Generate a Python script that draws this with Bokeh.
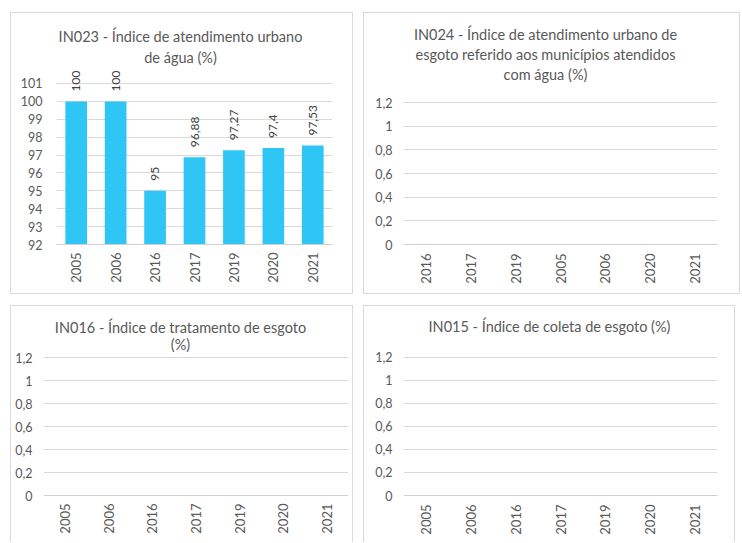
import math
from bokeh.plotting import figure
from bokeh.layouts import row, column
from bokeh.models import (ColumnDataSource, FactorRange, Range1d, FixedTicker,
                          CustomJSTickFormatter, Label)
from bokeh.core.properties import value
from bokeh.embed import file_html
from bokeh.resources import INLINE
from bokeh.core.validation import silence
from bokeh.core.validation.warnings import MISSING_RENDERERS

silence(MISSING_RENDERERS, True)

# ---------------- data ----------------
in023_years = ["2005", "2006", "2016", "2017", "2019", "2020", "2021"]
in023_values = [100, 100, 95, 96.88, 97.27, 97.4, 97.53]
in023_ticks = [92, 93, 94, 95, 96, 97, 98, 99, 100, 101]
in023_title = ["IN023 - Índice de atendimento urbano", "de água (%)"]

in024_years = ["2016", "2017", "2019", "2005", "2006", "2020", "2021"]
in024_title = ["IN024 - Índice de atendimento urbano de",
               "esgoto referido aos municípios atendidos",
               "com água (%)"]

in016_years = ["2005", "2006", "2016", "2017", "2019", "2020", "2021"]
in016_title = ["IN016 - Índice de tratamento de esgoto", "(%)"]

in015_years = ["2005", "2006", "2016", "2017", "2019", "2020", "2021"]
in015_title = ["IN015 - Índice de coleta de esgoto (%)"]

empty_ticks = [0, 0.2, 0.4, 0.6, 0.8, 1.0, 1.2]

# ---------------- style ----------------
FONT = "Lato"
TEXT = "#595959"
LABEL = "#404040"
GRID = "#d9d9d9"
AXIS = "#d0d0d0"
BAR = "#2FC6F6"

comma_fmt = CustomJSTickFormatter(code="return String(tick).replace('.', ',');")


def make_panel(W, H, left, right, bottom, cats, y0, ppu, ticks,
               title_lines, title_cx, centers, ystand, xstand, shadow):
    frame_h = H - bottom
    frame_w = W - left - right
    y1 = y0 + frame_h / ppu
    p = figure(width=W, height=H, x_range=FactorRange(*cats),
               y_range=Range1d(y0, y1), output_backend="svg",
               toolbar_location=None, min_border_left=left,
               min_border_right=right, min_border_top=0,
               min_border_bottom=bottom,
               styles={"box-shadow": shadow})
    p.border_fill_color = None
    p.background_fill_color = None
    p.outline_line_color = None
    p.xgrid.grid_line_color = None
    p.ygrid.grid_line_color = GRID
    p.ygrid.grid_line_width = 1

    p.yaxis.ticker = FixedTicker(ticks=ticks)
    p.yaxis.formatter = comma_fmt
    p.yaxis.axis_line_color = None
    p.yaxis.major_tick_line_color = None
    p.yaxis.minor_tick_line_color = None
    p.yaxis.major_tick_out = 0
    p.yaxis.major_label_standoff = ystand
    p.yaxis.major_label_text_font = FONT
    p.yaxis.major_label_text_font_size = "12.5px"
    p.yaxis.major_label_text_color = TEXT

    p.xaxis.axis_line_color = AXIS
    p.xaxis.major_tick_line_color = None
    p.xaxis.major_tick_out = 0
    p.xaxis.major_label_standoff = xstand
    p.xaxis.major_label_orientation = math.pi / 2
    p.xaxis.major_label_text_font = FONT
    p.xaxis.major_label_text_font_size = "13px"
    p.xaxis.major_label_text_color = TEXT

    ncat = len(cats)
    for line, c in zip(title_lines, centers):
        p.add_layout(Label(x=(title_cx - left) * ncat / frame_w,
                           y=y0 + (frame_h - c) / ppu,
                           x_units="data", y_units="data", text=line,
                           text_align="center", text_baseline="middle",
                           text_font=FONT, text_font_size="14.5px",
                           text_color=TEXT))
    return p


FULL = "inset 0 0 0 1px #d9d9d9"
OPEN = "inset 1px 1px 0 0 #d9d9d9, inset -1px 0 0 0 #d9d9d9"

# Panel 1: IN023 with bars
p1 = make_panel(343, 282, 46, 21, 50, in023_years, 92, 17.89,
                in023_ticks, in023_title, 170, [24, 44.5], 14, 8, FULL)
src = ColumnDataSource(dict(
    x=in023_years, top=in023_values,
    lbl=[("%g" % v).replace(".", ",") for v in in023_values]))
p1.vbar(x="x", top="top", bottom=92, width=0.55, source=src,
        fill_color=BAR, line_color=None)
p1.text(x="x", y="top", text="lbl", source=src, angle=math.pi / 2,
        text_align="left", text_baseline="middle", y_offset=-10,
        text_font=value(FONT), text_font_size="12px", text_color=LABEL)
p1.margin = (12, 0, 0, 10)

# Panel 2: IN024 (no data)
p2 = make_panel(377, 282, 40, 23, 50, in024_years, 0, 118.33,
                empty_ticks, in024_title, 182, [22, 42, 62], 11, 9, FULL)
p2.margin = (12, 0, 0, 10)

# Panel 3: IN016 (no data)
p3 = make_panel(343, 237, 33, 5, 44, in016_years, 0, 116.67,
                empty_ticks, in016_title, 170, [22.5, 39.5], 11, 8, OPEN)
p3.margin = (11, 0, 0, 10)

# Panel 4: IN015 (no data)
p4 = make_panel(372, 237, 40, 18, 47, in015_years, 0, 115.3,
                empty_ticks, in015_title, 186, [21], 11, 9, OPEN)
p4.margin = (11, 0, 0, 10)

layout = column(row(p1, p2), row(p3, p4))

open("out.html", "w").write(file_html(layout, INLINE))
